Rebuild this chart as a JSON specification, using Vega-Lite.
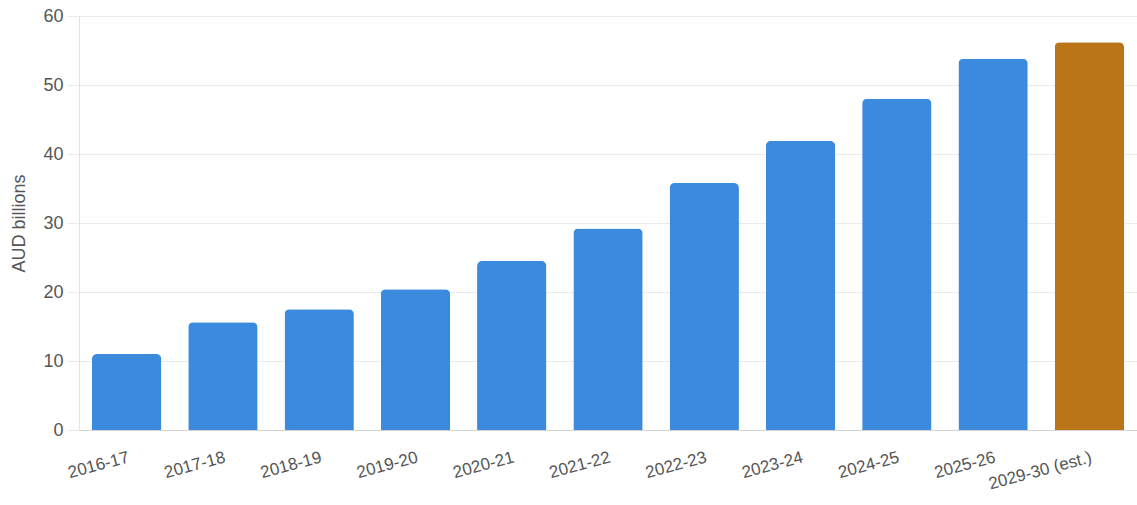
{
  "$schema": "https://vega.github.io/schema/vega-lite/v6.json",
  "autosize": "none",
  "width": 1058,
  "height": 414,
  "padding": {"left": 79, "top": 16, "right": 0, "bottom": 75},
  "background": "white",
  "config": {
    "view": {"stroke": null},
    "font": "Liberation Sans"
  },
  "data": {
    "values": [
      {"period": "2016-17", "value": 11.0, "kind": "actual"},
      {"period": "2017-18", "value": 15.6, "kind": "actual"},
      {"period": "2018-19", "value": 17.5, "kind": "actual"},
      {"period": "2019-20", "value": 20.4, "kind": "actual"},
      {"period": "2020-21", "value": 24.5, "kind": "actual"},
      {"period": "2021-22", "value": 29.2, "kind": "actual"},
      {"period": "2022-23", "value": 35.8, "kind": "actual"},
      {"period": "2023-24", "value": 41.9, "kind": "actual"},
      {"period": "2024-25", "value": 48.0, "kind": "actual"},
      {"period": "2025-26", "value": 53.8, "kind": "actual"},
      {"period": "2029-30 (est.)", "value": 56.2, "kind": "estimate"}
    ]
  },
  "mark": {"type": "bar", "cornerRadiusTopLeft": 5, "cornerRadiusTopRight": 5},
  "encoding": {
    "x": {
      "field": "period",
      "type": "nominal",
      "sort": null,
      "scale": {"paddingInner": 0.28, "paddingOuter": 0.135},
      "axis": {
        "title": null,
        "labelAngle": -15,
        "labelAlign": "right",
        "labelBaseline": "top",
        "labelPadding": 19,
        "labelFontSize": 17,
        "labelColor": "#555555",
        "ticks": false,
        "domainColor": "#d4d4d4",
        "domainWidth": 1,
        "grid": false,
        "labelOverlap": false
      }
    },
    "y": {
      "field": "value",
      "type": "quantitative",
      "scale": {"domain": [0, 60], "nice": false},
      "axis": {
        "title": "AUD billions",
        "titleFontSize": 18,
        "titleFontWeight": "normal",
        "titleColor": "#555555",
        "titlePadding": 14,
        "values": [0, 10, 20, 30, 40, 50, 60],
        "labelFontSize": 18,
        "labelColor": "#555555",
        "labelPadding": 4,
        "tickSize": 12,
        "tickColor": "#ebebeb",
        "gridColor": "#ebebeb",
        "domainColor": "#e3e3e3",
        "labelFlush": false
      }
    },
    "color": {
      "field": "kind",
      "type": "nominal",
      "scale": {"domain": ["actual", "estimate"], "range": ["#3a8bdd", "#ba7518"]},
      "legend": null
    }
  }
}
